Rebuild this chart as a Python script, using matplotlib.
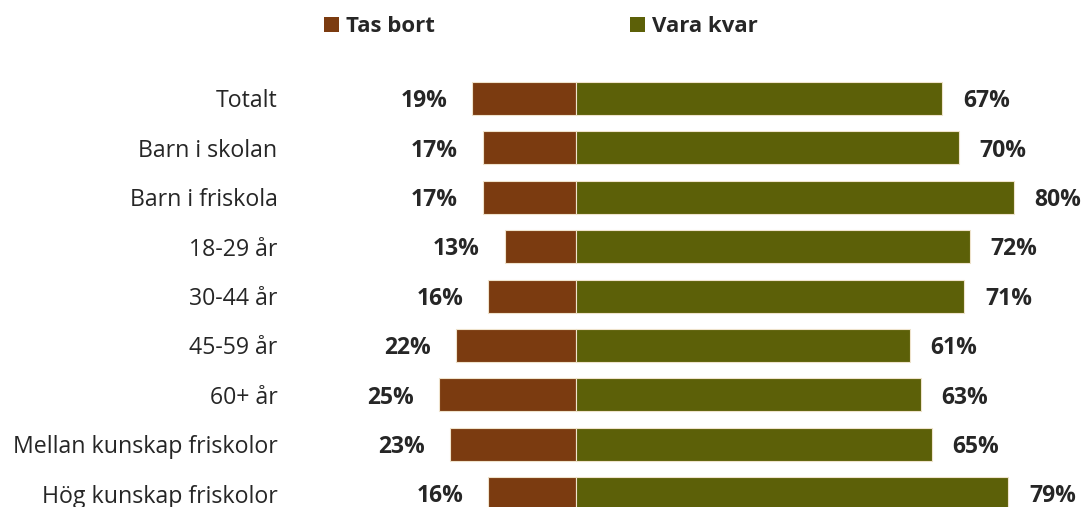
import matplotlib
matplotlib.use('Agg')
import matplotlib.pyplot as plt
from matplotlib.patches import Patch

plt.rcParams['font.family'] = ['Open Sans', 'DejaVu Sans']

categories = ['Totalt', 'Barn i skolan', 'Barn i friskola', '18-29 år', '30-44 år',
              '45-59 år', '60+ år', 'Mellan kunskap friskolor', 'Hög kunskap friskolor']
tas_bort = [19, 17, 17, 13, 16, 22, 25, 23, 16]
vara_kvar = [67, 70, 80, 72, 71, 61, 63, 65, 79]

BROWN = '#7B3B10'
GREEN = '#5C6008'
TXT = '#262626'

fig = plt.figure(figsize=(10.88, 5.07), dpi=100)
ax = fig.add_axes([290 / 1088, 0, 1 - 290 / 1088, 1])

y = list(range(len(categories)))
ax.barh(y, [-v for v in tas_bort], height=0.67, color=BROWN, edgecolor='#EFE3CC', linewidth=0.8)
ax.barh(y, vara_kvar, height=0.67, color=GREEN, edgecolor='#EFE3CC', linewidth=0.8)

for i in y:
    ax.annotate(f'{tas_bort[i]}%', (-tas_bort[i], i), xytext=(-18, -2),
                textcoords='offset points', ha='right', va='center',
                fontsize=16.5, fontweight='bold', color=TXT)
    ax.annotate(f'{vara_kvar[i]}%', (vara_kvar[i], i), xytext=(15, -2),
                textcoords='offset points', ha='left', va='center',
                fontsize=16.5, fontweight='bold', color=TXT)

ax.set_xlim((290 - 576) / 5.47, (1088 - 576) / 5.47)
ax.set_ylim(8.27, -1.994)
ax.set_yticks(y)
ax.set_yticklabels(categories, fontsize=16.7, color=TXT)
ax.tick_params(axis='y', length=0, pad=9)
ax.set_xticks([])
for s in ax.spines.values():
    s.set_visible(False)

handles = [Patch(facecolor=BROWN, label='Tas bort'), Patch(facecolor=GREEN, label='Vara kvar')]
leg = fig.legend(handles=handles, loc='center', bbox_to_anchor=(541 / 1088, 1 - 27 / 507),
                 ncol=2, frameon=False, handlelength=0.68, handleheight=0.68,
                 handletextpad=0.3, columnspacing=8.8,
                 prop={'size': 16, 'weight': 'bold'})
for t in leg.get_texts():
    t.set_color(TXT)

fig.savefig('out.png', dpi=100)
